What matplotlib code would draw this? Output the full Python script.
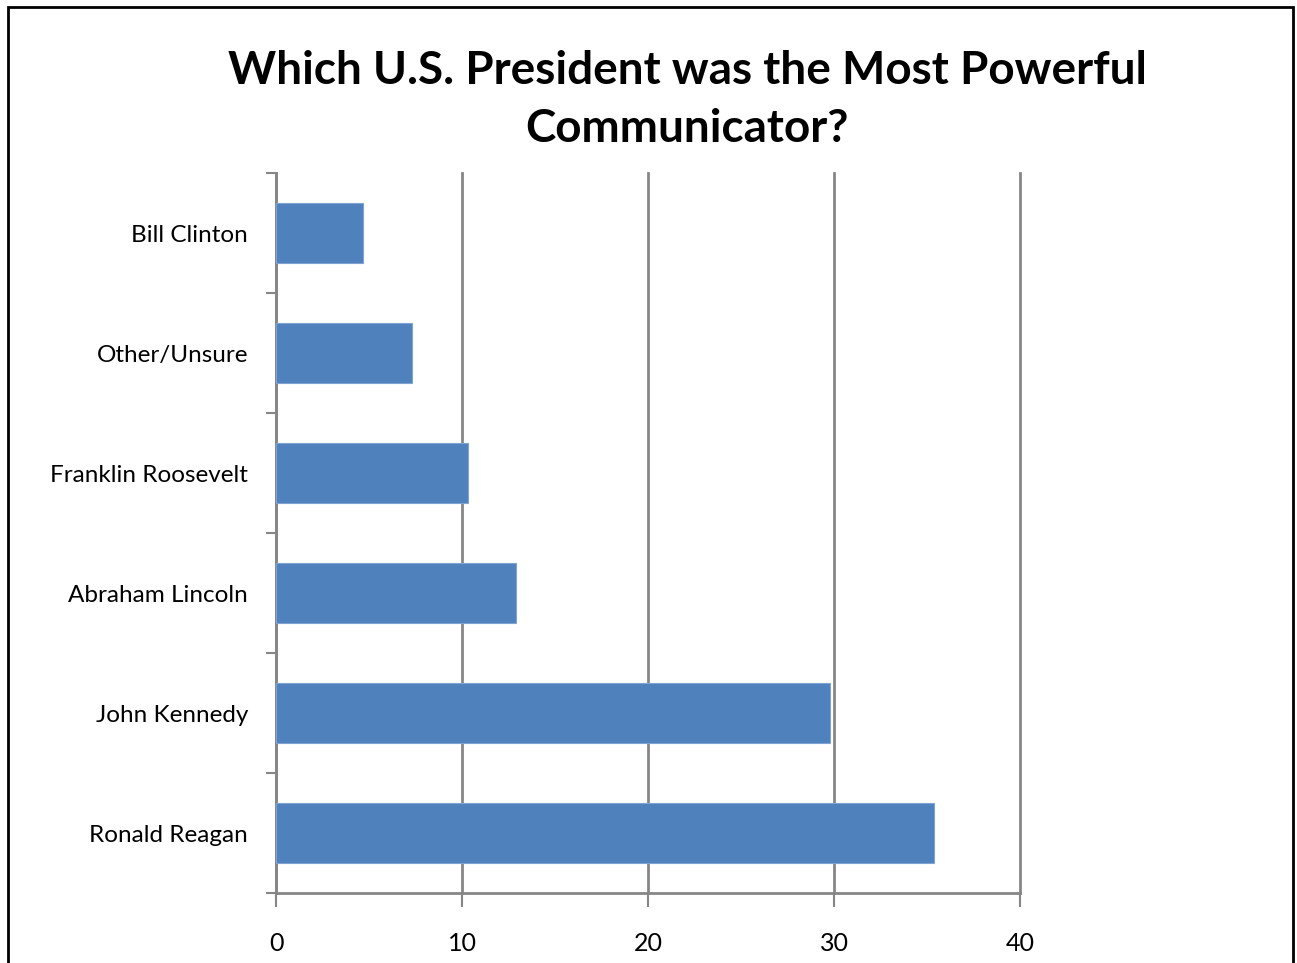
import matplotlib.pyplot as plt
from matplotlib.patches import Rectangle

plt.rcParams["font.family"] = ["Lato", "DejaVu Sans"]

presidents = ["Ronald Reagan", "John Kennedy", "Abraham Lincoln",
              "Franklin Roosevelt", "Other/Unsure", "Bill Clinton"]
votes = [35.4, 29.8, 12.9, 10.3, 7.3, 4.7]
x_ticks = [0, 10, 20, 30, 40]

W, H = 1297, 963
fig = plt.figure(figsize=(W / 100, H / 100), dpi=100)
fig.patch.set_facecolor("white")

# plot area in pixel terms: x 276..1020, y 173..893
ax = fig.add_axes([276 / W, 1 - 893 / H, (1020 - 276) / W, (893 - 173) / H])

pos = list(range(len(presidents)))
ax.barh(pos, votes, height=0.5, color="#4F81BD", edgecolor="#7FA4D3",
        linewidth=0.8, zorder=3)

grid_color = "#868686"
ax.set_xlim(0, 40)
ax.set_ylim(-0.5, len(presidents) - 0.5)
ax.set_xticks(x_ticks)
ax.set_xticklabels([str(t) for t in x_ticks])
ax.xaxis.grid(True, color=grid_color, linewidth=2, zorder=0)
for gl in ax.get_xgridlines():
    gl.set_clip_on(False)

# category ticks sit between the bars
ax.set_yticks([p - 0.5 for p in pos] + [len(presidents) - 0.5])
ax.set_yticklabels([])
ax.set_yticks(pos, minor=True)
ax.set_yticklabels(presidents, minor=True, fontsize=17.5, va="center_baseline")
ax.tick_params(axis="y", which="minor", length=0, pad=20)
ax.tick_params(axis="y", which="major", length=7, width=1.5, color=grid_color)
ax.tick_params(axis="x", length=10, width=1.5, color=grid_color,
               labelsize=18, pad=18)

for side in ["top", "right"]:
    ax.spines[side].set_visible(False)
for side in ["left", "bottom"]:
    ax.spines[side].set_color(grid_color)
    ax.spines[side].set_linewidth(2)

fig.text(687 / W, 1 - 100 / H,
         "Which U.S. President was the Most Powerful\nCommunicator?",
         ha="center", va="center", fontsize=33, fontweight="bold",
         linespacing=1.5)

# chart frame, open at the bottom edge
fig.patches.append(Rectangle((7.5 / W, -0.05), (1293 - 7.5) / W,
                             1.05 - 7.5 / H, transform=fig.transFigure,
                             fill=False, edgecolor="black", linewidth=2))

fig.savefig("out.png", dpi=100)
